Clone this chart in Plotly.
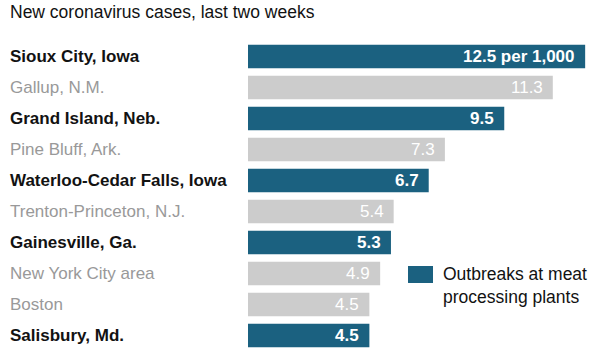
import plotly.graph_objects as go

cities = ["Sioux City, Iowa", "Gallup, N.M.", "Grand Island, Neb.", "Pine Bluff, Ark.",
          "Waterloo-Cedar Falls, Iowa", "Trenton-Princeton, N.J.", "Gainesville, Ga.",
          "New York City area", "Boston", "Salisbury, Md."]
cases = [12.5, 11.3, 9.5, 7.3, 6.7, 5.4, 5.3, 4.9, 4.5, 4.5]
value_labels = ["12.5 per 1,000", "11.3", "9.5", "7.3", "6.7", "5.4", "5.3", "4.9", "4.5", "4.5"]
meat_outbreak = [True, False, True, False, True, False, True, False, False, True]

TEAL = "#1b6180"
GREY = "#cccccc"
FONT = "Liberation Sans, Arial, sans-serif"

fig = go.Figure(go.Bar(
    x=cases, y=cities, orientation="h",
    marker=dict(color=[TEAL if m else GREY for m in meat_outbreak], line=dict(width=0)),
    hoverinfo="skip",
))

annotations = []
for c, v, lab, m in zip(cities, cases, value_labels, meat_outbreak):
    annotations.append(dict(
        x=0, xref="paper", xanchor="left", y=c, yref="y", yanchor="middle",
        text=f"<b>{c}</b>" if m else c, showarrow=False,
        font=dict(family=FONT, size=17, color="#121212" if m else "#999999")))
    annotations.append(dict(
        x=v, xref="x", xanchor="right", xshift=-8, y=c, yref="y", yanchor="middle",
        text=f"<b>{lab}</b>" if m else lab, showarrow=False,
        font=dict(family=FONT, size=17, color="#ffffff")))

annotations.append(dict(
    x=0, xref="paper", xanchor="left", y=1.093, yref="paper", yanchor="middle",
    text="New coronavirus cases, last two weeks", showarrow=False,
    font=dict(family=FONT, size=17.5, color="#121212")))
annotations.append(dict(
    x=0.7314, xref="paper", xanchor="left", y=0.2097, yref="paper", yanchor="middle",
    text="Outbreaks at meat<br>processing plants", showarrow=False, align="left",
    font=dict(family=FONT, size=17.5, color="#121212")))

fig.update_layout(
    width=600, height=355,
    margin=dict(l=8, r=0, t=41, b=4),
    paper_bgcolor="white", plot_bgcolor="white",
    bargap=0.24,
    showlegend=False,
    xaxis=dict(domain=[240/592, 1], range=[0, 13.05], visible=False, fixedrange=True),
    yaxis=dict(autorange="reversed", visible=False, fixedrange=True),
    annotations=annotations,
    shapes=[dict(type="rect", xref="paper", yref="paper",
                 x0=0.6757, x1=0.7179, y0=0.2194, y1=0.2742,
                 fillcolor=TEAL, line=dict(width=0))],
)

fig.write_html("out.html", config={"displayModeBar": False},
               post_script="document.body.style.margin='0';document.body.style.overflow='hidden';")
